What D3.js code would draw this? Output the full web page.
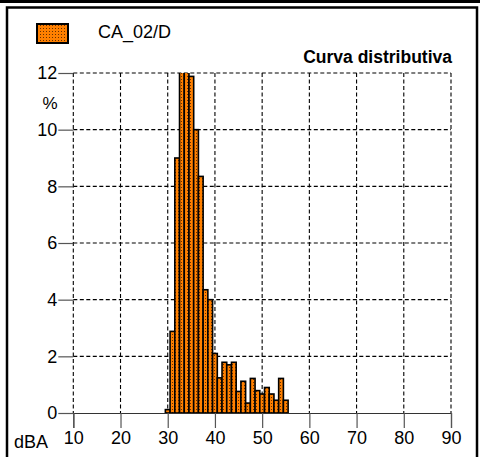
<!DOCTYPE html>
<html>
<head>
<meta charset="utf-8">
<script src="https://cdn.jsdelivr.net/npm/d3@7"></script>
<style>
html,body{margin:0;padding:0;background:#fff;}
svg{display:block;font-family:"Liberation Sans",Arial,sans-serif;}
</style>
</head>
<body>
<svg id="chart" width="480" height="457"></svg>
<script>
// Data
const binCenters = [30,31,32,33,34,35,36,37,38,39,40,41,42,43,44,45,46,47,48,49,50,51,52,53,54,55];
const percentValues = [0.12,2.88,9.0,12.4,12.2,11.88,10.0,8.35,4.35,4.0,2.1,1.24,1.79,1.7,1.79,0.76,1.12,0.35,1.22,0.79,0.67,0.9,0.67,0.45,1.22,0.45];
const xTicks = [10,20,30,40,50,60,70,80,90];
const yTicks = [0,2,4,6,8,10,12];
const seriesName = "CA_02/D";
const chartTitle = "Curva distributiva";
const xUnit = "dBA";
const yUnit = "%";

const svg = d3.select("#chart");
const W = 480, H = 457;
const pL = 73.3, pR = 451, pT = 73, pB = 413;

const x = d3.scaleLinear().domain([10,90]).range([pL,pR]);
const y = d3.scaleLinear().domain([0,12]).range([pB,pT]);

// pattern
const defs = svg.append("defs");
const pat = defs.append("pattern").attr("id","dots").attr("patternUnits","userSpaceOnUse")
  .attr("width",3).attr("height",3);
pat.append("rect").attr("width",3).attr("height",3).attr("fill","#ff8000");
pat.append("rect").attr("x",1).attr("y",1).attr("width",1).attr("height",1).attr("fill","#6a3000");
defs.append("clipPath").attr("id","plotclip").append("rect")
  .attr("x",pL-2).attr("y",pT).attr("width",pR-pL+4).attr("height",pB-pT+2);

// frame
svg.append("rect").attr("x",0).attr("y",0).attr("width",W).attr("height",3).attr("fill","#000");
svg.append("rect").attr("x",7).attr("y",7.5).attr("width",470).attr("height",460)
  .attr("fill","none").attr("stroke","#000").attr("stroke-width",2.5);

// grid
const grid = svg.append("g").attr("stroke","#000").attr("stroke-width",1.1).attr("stroke-dasharray","4,2.5");
grid.selectAll("line.v").data(xTicks).join("line").attr("class","v")
  .attr("x1",d=>x(d)).attr("x2",d=>x(d)).attr("y1",pT).attr("y2",pB);
grid.selectAll("line.h").data(yTicks.filter(d=>d>0)).join("line").attr("class","h")
  .attr("x1",pL).attr("x2",pR).attr("y1",d=>y(d)).attr("y2",d=>y(d));

// bars
svg.append("g").attr("clip-path","url(#plotclip)")
  .selectAll("rect").data(binCenters).join("rect")
  .attr("x",(d)=>x(d-0.5))
  .attr("width",(d)=>x(d+0.5)-x(d-0.5))
  .attr("y",(d,i)=>y(percentValues[i]))
  .attr("height",(d,i)=>y(0)-y(percentValues[i]))
  .attr("fill","url(#dots)").attr("stroke","#000").attr("stroke-width",1.6);

// axes
const xAxis = d3.axisBottom(x).tickValues(xTicks).tickSize(15).tickPadding(3).tickFormat(d3.format("d"));
const gx = svg.append("g").attr("transform",`translate(0,${pB})`).call(xAxis);
gx.select(".domain").attr("stroke","#333").attr("stroke-width",1.2);
gx.selectAll(".tick line").attr("stroke","#555").attr("stroke-width",1.2);
gx.selectAll("text").attr("font-size",18).attr("fill","#000").attr("font-family","Liberation Sans, Arial, sans-serif");

const yAxis = d3.axisLeft(y).tickValues(yTicks).tickSize(15).tickPadding(1).tickFormat(d3.format("d"));
const gy = svg.append("g").attr("transform",`translate(${pL},0)`).call(yAxis);
gy.select(".domain").remove();
gy.selectAll(".tick line").attr("stroke","#555").attr("stroke-width",1.2);
gy.selectAll("text").attr("font-size",18).attr("fill","#000").attr("font-family","Liberation Sans, Arial, sans-serif");

// unit labels
svg.append("text").attr("x",50).attr("y",109).attr("text-anchor","middle").attr("font-size",17).text(yUnit);
svg.append("text").attr("x",14).attr("y",448).attr("font-size",18).text(xUnit);

// legend
svg.append("rect").attr("x",37).attr("y",24).attr("width",31).attr("height",19)
  .attr("fill","url(#dots)").attr("stroke","#000").attr("stroke-width",2);
svg.append("text").attr("x",98).attr("y",38).attr("font-size",18).text(seriesName);
svg.append("text").attr("x",452).attr("y",63).attr("text-anchor","end").attr("font-size",17.5)
  .attr("font-weight","bold").text(chartTitle);
</script>
</body>
</html>
